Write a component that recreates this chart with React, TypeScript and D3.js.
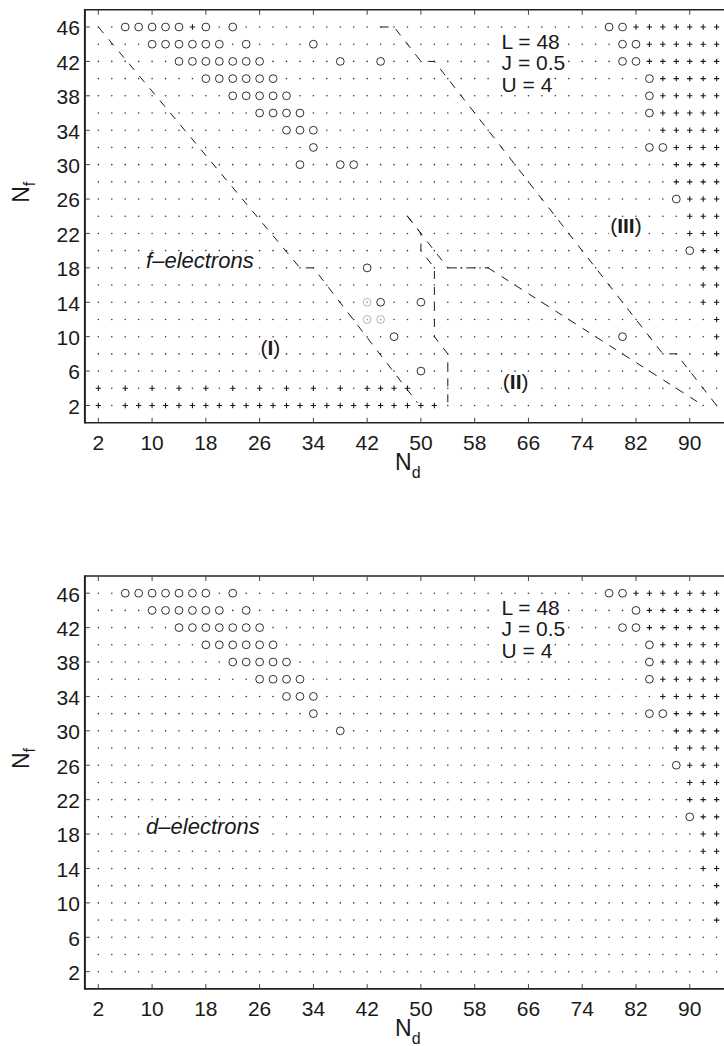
import { useLayoutEffect, useRef, useState } from 'react';
import * as d3 from 'd3';

// grid of (Nd, Nf) values
const ndGrid = [2, 4, 6, 8, 10, 12, 14, 16, 18, 20, 22, 24, 26, 28, 30, 32, 34, 36, 38, 40, 42, 44, 46, 48,
  50, 52, 54, 56, 58, 60, 62, 64, 66, 68, 70, 72, 74, 76, 78, 80, 82, 84, 86, 88, 90, 92, 94];
const nfGrid = [2, 4, 6, 8, 10, 12, 14, 16, 18, 20, 22, 24, 26, 28, 30, 32, 34, 36, 38, 40, 42, 44, 46];
const xTicks = [2, 10, 18, 26, 34, 42, 50, 58, 66, 74, 82, 90];
const yTicks = [2, 6, 10, 14, 18, 22, 26, 30, 34, 38, 42, 46];

type Row = [number, number[]]; // [Nf, Nd list]

// f-electrons panel
const fCircles: Row[] = [
  [46, [6, 8, 10, 12, 14, 18, 22, 78, 80]],
  [44, [10, 12, 14, 16, 18, 20, 24, 34, 80, 82]],
  [42, [14, 16, 18, 20, 22, 24, 26, 38, 44, 80, 82]],
  [40, [18, 20, 22, 24, 26, 28, 84]],
  [38, [22, 24, 26, 28, 30, 84]],
  [36, [26, 28, 30, 32, 84]],
  [34, [30, 32, 34]],
  [32, [34, 84, 86]],
  [30, [32, 38, 40]],
  [26, [88]],
  [20, [90]],
  [18, [42]],
  [14, [44, 50]],
  [10, [46, 80]],
  [6, [50]],
];
const fGray: Row[] = [
  [14, [42]],
  [12, [42, 44]],
];
const fPluses: Row[] = [
  [46, [16, 82, 84, 86, 88, 90, 92, 94]],
  [44, [84, 86, 88, 90, 92, 94]],
  [42, [84, 86, 88, 90, 92, 94]],
  [40, [86, 88, 90, 92, 94]],
  [38, [86, 88, 90, 92, 94]],
  [36, [86, 88, 90, 92, 94]],
  [34, [86, 88, 90, 92, 94]],
  [32, [88, 90, 92, 94]],
  [30, [88, 90, 92, 94]],
  [28, [88, 90, 92, 94]],
  [26, [90, 92, 94]],
  [24, [90, 92, 94]],
  [22, [90, 92, 94]],
  [20, [92, 94]],
  [18, [92, 94]],
  [16, [92, 94]],
  [14, [92, 94]],
  [12, [94]],
  [10, [94]],
  [8, [94]],
  [4, [2, 6, 10, 14, 18, 22, 26, 30, 34, 38, 42, 44, 46, 48]],
  [2, [2, 6, 8, 10, 12, 14, 16, 18, 20, 22, 24, 26, 28, 30, 32, 34, 36, 38, 40, 42, 44, 46, 48, 50, 52]],
];

// d-electrons panel
const dCircles: Row[] = [
  [46, [6, 8, 10, 12, 14, 16, 18, 22, 78, 80]],
  [44, [10, 12, 14, 16, 18, 20, 24, 82]],
  [42, [14, 16, 18, 20, 22, 24, 26, 80, 82]],
  [40, [18, 20, 22, 24, 26, 28, 84]],
  [38, [22, 24, 26, 28, 30, 84]],
  [36, [26, 28, 30, 32, 84]],
  [34, [30, 32, 34]],
  [32, [34, 84, 86]],
  [30, [38]],
  [26, [88]],
  [20, [90]],
];
const dPluses: Row[] = [
  [46, [82, 84, 86, 88, 90, 92, 94]],
  [44, [84, 86, 88, 90, 92, 94]],
  [42, [84, 86, 88, 90, 92, 94]],
  [40, [86, 88, 90, 92, 94]],
  [38, [86, 88, 90, 92, 94]],
  [36, [86, 88, 90, 92, 94]],
  [34, [86, 88, 90, 92, 94]],
  [32, [88, 90, 92, 94]],
  [30, [88, 90, 92, 94]],
  [28, [88, 90, 92, 94]],
  [26, [90, 92, 94]],
  [24, [90, 92, 94]],
  [22, [90, 92, 94]],
  [20, [92, 94]],
  [18, [92, 94]],
  [16, [92, 94]],
  [14, [92, 94]],
  [12, [94]],
  [10, [94]],
  [8, [94]],
];

// phase boundaries (top panel), [Nd, Nf]
const boundaryA: [number, number][] = [[2, 46], [32, 18], [34, 18], [49.5, 2.3]];
const boundaryB: [number, number][] = [[44, 46], [46, 46], [50, 42], [52, 42], [86, 8], [88, 8], [94.5, 1.5]];
const boundaryC: [number, number][] = [[48, 24], [50, 22], [50, 20], [52, 18], [52, 10], [54, 8], [54, 1.7]];
const boundaryD1: [number, number][] = [[48, 24], [54, 18]];
const boundaryD2: [number, number][] = [[54, 18], [60, 18]];
const boundaryD3: [number, number][] = [[60, 18], [92, 2]];

const params = ['L = 48', 'J = 0.5', 'U = 4'];

const FONT = "'Liberation Sans', Arial, Helvetica, sans-serif";
const INK = '#1a1a1a';

function BgText({ x, y, size, anchor = 'start', italic = false, children }: any) {
  const ref = useRef<SVGTextElement>(null);
  const [box, setBox] = useState<{ x: number; w: number } | null>(null);
  useLayoutEffect(() => {
    if (ref.current) {
      const b = ref.current.getBBox();
      setBox({ x: b.x - 1, w: b.width + 2 });
    }
  }, []);
  return (
    <g>
      {box && <rect x={box.x} y={y - 0.74 * size} width={box.w} height={0.9 * size} fill="#fff" />}
      <text ref={ref} x={x} y={y} fontSize={size} textAnchor={anchor}
        fontStyle={italic ? 'italic' : 'normal'} fill={INK}>{children}</text>
    </g>
  );
}

function Panel({ top, circles, pluses, grays, name, withLines }: any) {
  const height = 412.9;
  const x = d3.scaleLinear().domain([0, 98]).range([84.9, 743.5]);
  const y = d3.scaleLinear().domain([0, 48]).range([top + height, top]);

  const kind = new Map<string, string>();
  (circles as Row[]).forEach(([nf, nds]) => nds.forEach(nd => kind.set(`${nd},${nf}`, 'o')));
  (pluses as Row[]).forEach(([nf, nds]) => nds.forEach(nd => kind.set(`${nd},${nf}`, '+')));
  (grays as Row[]).forEach(([nf, nds]) => nds.forEach(nd => kind.set(`${nd},${nf}`, 'g')));

  const line = d3.line<[number, number]>().x(d => x(d[0])).y(d => y(d[1]));
  const x0 = x(0), y0 = y(0), y1 = y(48), xr = x(98);

  return (
    <g>
      {/* markers */}
      {nfGrid.map(nf => ndGrid.map(nd => {
        const k = kind.get(`${nd},${nf}`) || '.';
        const tr = `translate(${x(nd)},${y(nf)})`;
        if (k === 'o') return <circle key={`${nd}-${nf}`} transform={tr} r={3.9} fill="none" stroke={INK} strokeWidth={0.9} />;
        if (k === '+') return <path key={`${nd}-${nf}`} transform={tr} d="M-2.7,0H2.7M0,-2.7V2.7" stroke={INK} strokeWidth={1.1} />;
        if (k === 'g') return (
          <g key={`${nd}-${nf}`} transform={tr}>
            <circle r={3.9} fill="none" stroke="#aaa" strokeWidth={0.9} />
            <circle r={0.9} fill="#aaa" />
          </g>
        );
        return <circle key={`${nd}-${nf}`} transform={tr} r={0.8} fill="#333" />;
      }))}

      {withLines && (
        <g fill="none" stroke="#1a1a1a" strokeWidth={1}>
          {[boundaryA, boundaryB, boundaryC, boundaryD1, boundaryD3].map((b, i) => (
            <path key={i} d={line(b) || ''} strokeDasharray="8,8" />
          ))}
          <path d={line(boundaryD2) || ''} strokeDasharray="9,4,1.5,4" />
        </g>
      )}

      {/* annotations */}
      <g fontFamily={FONT}>
        {params.map((p, i) => (
          <BgText key={p} x={x(62)} y={y(43.5 - 2.5 * i)} size={21}>{p}</BgText>
        ))}
        <BgText x={x(9.1)} y={y(18)} size={22} italic>{name}</BgText>
        {withLines && (
          <>
            <BgText x={x(27.6)} y={y(7.9)} size={21} anchor="middle">(<tspan fontWeight="bold">I</tspan>)</BgText>
            <BgText x={x(64.1)} y={y(3.9)} size={21} anchor="middle">(<tspan fontWeight="bold">II</tspan>)</BgText>
            <BgText x={x(80.5)} y={y(22)} size={21} anchor="middle">(<tspan fontWeight="bold">III</tspan>)</BgText>
          </>
        )}
      </g>

      {/* axes box */}
      <g stroke="#222" fill="none">
        <line x1={x0} x2={xr} y1={y1} y2={y1} strokeWidth={1.6} />
        <line x1={x0} x2={xr} y1={y0} y2={y0} strokeWidth={1.6} />
        <line x1={x0} x2={x0} y1={y1 - 0.8} y2={y0 + 0.8} strokeWidth={2} />
      </g>
      <g stroke="#444" strokeWidth={1}>
        {xTicks.map(t => (
          <g key={t}>
            <line x1={x(t)} x2={x(t)} y1={y0} y2={y0 - 5} />
            <line x1={x(t)} x2={x(t)} y1={y1} y2={y1 + 5} />
          </g>
        ))}
        {yTicks.map(t => (
          <line key={t} x1={x0} x2={x0 + 5} y1={y(t)} y2={y(t)} />
        ))}
      </g>

      {/* tick labels */}
      <g fontFamily={FONT} fontSize={21} fill={INK}>
        {xTicks.map(t => (
          <text key={t} x={x(t)} y={y0 + 27.5} textAnchor="middle">{t}</text>
        ))}
        {yTicks.map(t => (
          <text key={t} x={x0 - 5} y={y(t) + 8.3} textAnchor="end">{t}</text>
        ))}
      </g>

      {/* axis labels */}
      <g fontFamily={FONT} fill={INK}>
        <text x={395} y={y0 + 47.5} fontSize={23}>N<tspan dy={8} fontSize={16}>d</tspan></text>
        <text transform={`translate(29,${top + 193})rotate(-90)`} fontSize={23}>N<tspan dy={6} fontSize={16}>f</tspan></text>
      </g>
    </g>
  );
}

function App() {
  return (
    <div style={{ position: 'absolute', left: 0, top: 0, width: 724, height: 1046, background: '#fff' }}>
      <svg width={724} height={1046} style={{ display: 'block', overflow: 'hidden' }}>
        <rect width={724} height={1046} fill="#fff" />
        <Panel top={9.8} circles={fCircles} pluses={fPluses} grays={fGray} name="f–electrons" withLines />
        <Panel top={576} circles={dCircles} pluses={dPluses} grays={[]} name="d–electrons" withLines={false} />
      </svg>
    </div>
  );
}

export default App;
